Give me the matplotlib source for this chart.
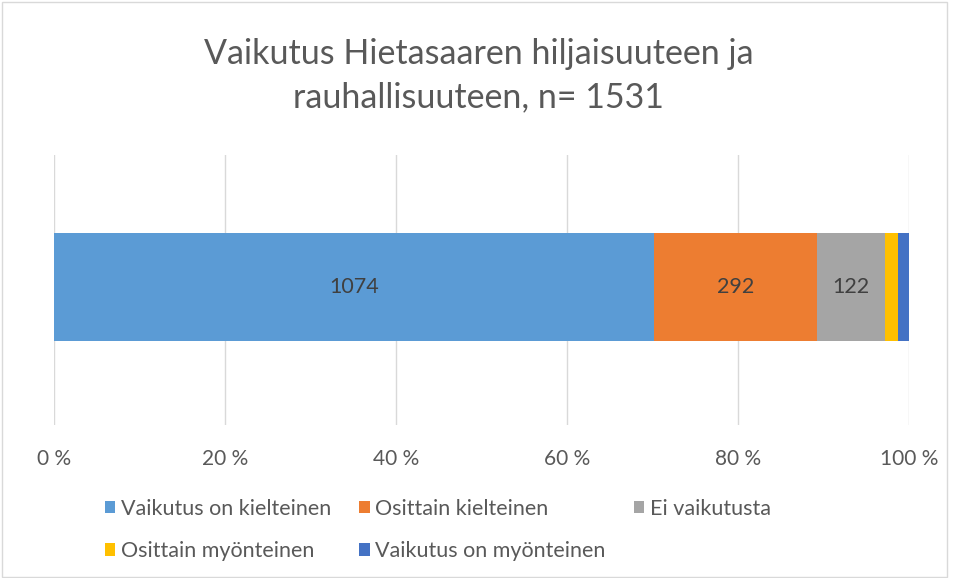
import matplotlib.pyplot as plt
from matplotlib.patches import Rectangle
from matplotlib.ticker import FuncFormatter

# data
categories = ["Vaikutus on kielteinen", "Osittain kielteinen", "Ei vaikutusta",
              "Osittain myönteinen", "Vaikutus on myönteinen"]
counts = [1074, 292, 122, 23, 20]
colors = ["#5B9BD5", "#ED7D31", "#A5A5A5", "#FFC000", "#4472C4"]
shown_labels = ["1074", "292", "122", "", ""]
title = "Vaikutus Hietasaaren hiljaisuuteen ja\nrauhallisuuteen, n= 1531"

plt.rcParams['font.family'] = ['Lato', 'DejaVu Sans']
text_col = "#595959"

fig = plt.figure(figsize=(9.57, 5.78), dpi=100)
ax = fig.add_axes([54 / 957, 1 - 425 / 578, 855 / 957, 270 / 578])

total = sum(counts)
left = 0
handles = []
for cat, n, c, lab in zip(categories, counts, colors, shown_labels):
    w = n / total * 100
    b = ax.barh([0], [w], left=left, height=0.8, color=c, label=cat)
    handles.append(b)
    if lab:
        ax.text(left + w / 2, 0, lab, ha="center", va="center",
                fontsize=15.5, color="#404040")
    left += w

ax.set_xlim(0, 100)
ax.set_ylim(-1.02, 0.98)
ax.set_xticks(range(0, 101, 20))
ax.xaxis.set_major_formatter(FuncFormatter(lambda v, p: f"{int(v)} %"))
ax.tick_params(axis="x", length=0, labelsize=15, labelcolor=text_col, pad=17)
ax.set_yticks([])
ax.grid(axis="x", color="#D9D9D9", linewidth=1)
ax.set_axisbelow(True)
for s in ax.spines.values():
    s.set_visible(False)

fig.suptitle(title, fontsize=24.5, color=text_col, y=1 - 38 / 578, va="top",
             linespacing=1.45)

order = [0, 3, 1, 4, 2]
leg = fig.legend([handles[i] for i in order], [categories[i] for i in order],
                 ncol=3, loc="upper left", bbox_to_anchor=(96 / 957, 1 - 490 / 578),
                 frameon=False, fontsize=15.5, handlelength=0.5, handleheight=0.5,
                 handletextpad=0.25, columnspacing=1.3, labelspacing=1.05,
                 borderaxespad=0)
for t in leg.get_texts():
    t.set_color(text_col)

fig.patches.append(Rectangle((0.002, 0.002), 0.988, 0.995, transform=fig.transFigure,
                             fill=False, edgecolor="#D9D9D9", linewidth=1))

fig.savefig("out.png", dpi=100)
